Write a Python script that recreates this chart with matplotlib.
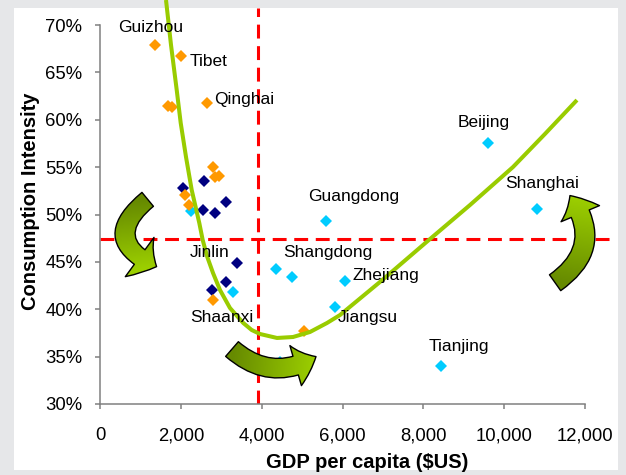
import numpy as np
import matplotlib
matplotlib.use("Agg")
import matplotlib.pyplot as plt
from matplotlib.patches import FancyArrowPatch, Rectangle
from matplotlib.colors import LinearSegmentedColormap
from matplotlib.ticker import FuncFormatter

plt.rcParams["font.family"] = ["Liberation Sans", "DejaVu Sans"]
plt.rcParams["lines.scale_dashes"] = False

# GDP per capita ($US) vs consumption intensity (%), three province groups
west_gdp = [1360, 1996, 1690, 1770, 2640, 2804, 2845, 2952, 2103, 2211, 2804, 5057]
west_ci = [67.9, 66.76, 61.45, 61.35, 61.74, 55.04, 53.93, 54.06, 52.06, 51.0, 40.98, 37.7]
central_gdp = [2062, 2582, 2557, 2845, 3117, 3381, 3110, 2763]
central_ci = [52.76, 53.54, 50.47, 50.19, 51.35, 44.91, 42.9, 42.03]
east_gdp = [2251, 3300, 4347, 4742, 6061, 5584, 5814, 9607, 10804, 8428, 4455]
east_ci = [50.4, 41.79, 44.25, 43.44, 42.98, 49.35, 40.27, 57.51, 50.55, 34.04, 34.47]

# hand-drawn trend curve
trend_gdp = [1633, 1757, 1898, 1997, 2128, 2269, 2457, 2541, 2655, 2796, 2969, 3216, 3545,
             3753, 3958, 4379, 4775, 5195, 5616, 5938, 6927, 8164, 9154, 10218, 11009, 11801]
trend_ci = [72.64, 67.89, 63.14, 59.66, 56.07, 52.59, 49.10, 47.31, 45.51, 43.83, 42.03, 40.13,
            38.55, 37.81, 37.39, 36.97, 37.07, 37.6, 38.55, 39.39, 42.88, 47.41, 51.0, 55.01,
            58.5, 62.08]

gdp_split = 3920
ci_split = 47.4

labels = ["Guizhou", "Tibet", "Qinghai", "Jinlin", "Shaanxi", "Guangdong",
          "Shangdong", "Zhejiang", "Jiangsu", "Tianjing", "Beijing", "Shanghai"]
label_x = [445, 2227, 2820, 2227, 2227, 5146, 4527, 6259, 5888, 8140, 8857, 10020]
label_y = [69.79, 66.10, 62.19, 46.04, 39.08, 51.85, 45.94, 43.51, 39.08, 36.02, 59.76, 53.22]

fig = plt.figure(figsize=(6.26, 4.75), dpi=100, facecolor="#e6e7e9")
fig.patches.append(Rectangle((14 / 626, 5 / 475), 604 / 626, 462 / 475,
                             transform=fig.transFigure, facecolor="white",
                             edgecolor="none", zorder=-1))
ax = fig.add_axes([100 / 626, 71 / 475, 513.3 / 626, 404 / 475])
ax.set_facecolor("none")

XMAX, YMAX = 12700, 72.64

ax.plot(east_gdp, east_ci, "D", color="#00ccff", ms=6.5, mew=0, zorder=3)
ax.plot(central_gdp, central_ci, "D", color="#000080", ms=6.5, mew=0, zorder=3)
ax.plot(west_gdp, west_ci, "D", color="#ff9900", ms=6.5, mew=0, zorder=3)

ax.plot([gdp_split, gdp_split], [30, 71.8], color="red", lw=2.2, dashes=(10, 5.5), zorder=2)
ax.plot([0, 12670], [ci_split, ci_split], color="red", lw=2.2, dashes=(10, 5.5), zorder=2)

ax.plot(trend_gdp, trend_ci, color="#99cc00", lw=2.9, solid_joinstyle="round",
        solid_capstyle="butt", zorder=4)

for name, x, y in zip(labels, label_x, label_y):
    ax.text(x, y, name, ha="left", va="center", fontsize=12.5, zorder=6)

# curved block arrows with a dark-to-light green fill
cmap = LinearSegmentedColormap.from_list("arr", ["#668a00", "#9ccf00"])
arrows = [
    ((1180, 51.6), (1400, 44.5), 0.8, "simple,head_length=14,head_width=35,tail_width=13"),
    ((3266, 35.8), (5344, 35.0), 0.36, "simple,head_length=16,head_width=30,tail_width=14"),
    ((11260, 42.8), (11628, 52.0), 0.5, "simple,head_length=15,head_width=30,tail_width=14"),
]
gx, gy = np.meshgrid(np.linspace(0, XMAX, 300), np.linspace(30, YMAX, 300))
for start, end, rad, style in arrows:
    kw = dict(arrowstyle=style, connectionstyle=f"arc3,rad={rad}",
              shrinkA=0, shrinkB=0, mutation_scale=1)
    clip = FancyArrowPatch(start, end, facecolor="none", edgecolor="none", zorder=5, **kw)
    ax.add_patch(clip)
    dx = (end[0] - start[0]) * 0.04042
    dy = (end[1] - start[1]) * 9.475
    t = ((gx - start[0]) * 0.04042 * dx + (gy - start[1]) * 9.475 * dy) / (dx * dx + dy * dy)
    im = ax.imshow(np.clip(t, 0, 1), extent=(0, XMAX, 30, YMAX), origin="lower",
                   cmap=cmap, vmin=0, vmax=1, aspect="auto", zorder=5.1)
    im.set_clip_path(clip)
    ax.add_patch(FancyArrowPatch(start, end, facecolor="none", edgecolor="black",
                                 lw=1.0, zorder=5.2, **kw))

ax.set_xlim(0, XMAX)
ax.set_ylim(30, YMAX)
ax.set_xticks(range(0, 12001, 2000))
ax.set_yticks(range(30, 71, 5))
ax.xaxis.set_major_formatter(FuncFormatter(lambda v, p: f"{int(v):,}"))
ax.yaxis.set_major_formatter(FuncFormatter(lambda v, p: f"{int(v)}%"))
for s in ["top", "right"]:
    ax.spines[s].set_visible(False)
for s in ["left", "bottom"]:
    ax.spines[s].set_color("#808080")
    ax.spines[s].set_linewidth(1.1)
ax.spines["bottom"].set_bounds(0, 12000)
ax.spines["left"].set_bounds(30, 70)
ax.tick_params(direction="out", length=3.6, width=1.1, color="#808080",
               labelsize=13.3, labelcolor="black")
ax.tick_params(axis="y", pad=9)
ax.tick_params(axis="x", pad=13)

fig.text(367 / 626, 1 - 462 / 475, "GDP per capita ($US)", ha="center", va="center",
         fontsize=14.5, fontweight="bold")
fig.text(31 / 626, 1 - 201 / 475, "Consumption Intensity", ha="center", va="center",
         rotation=90, fontsize=14.5, fontweight="bold")

fig.canvas.draw()
fig.savefig("out.png", dpi=100, facecolor=fig.get_facecolor())
